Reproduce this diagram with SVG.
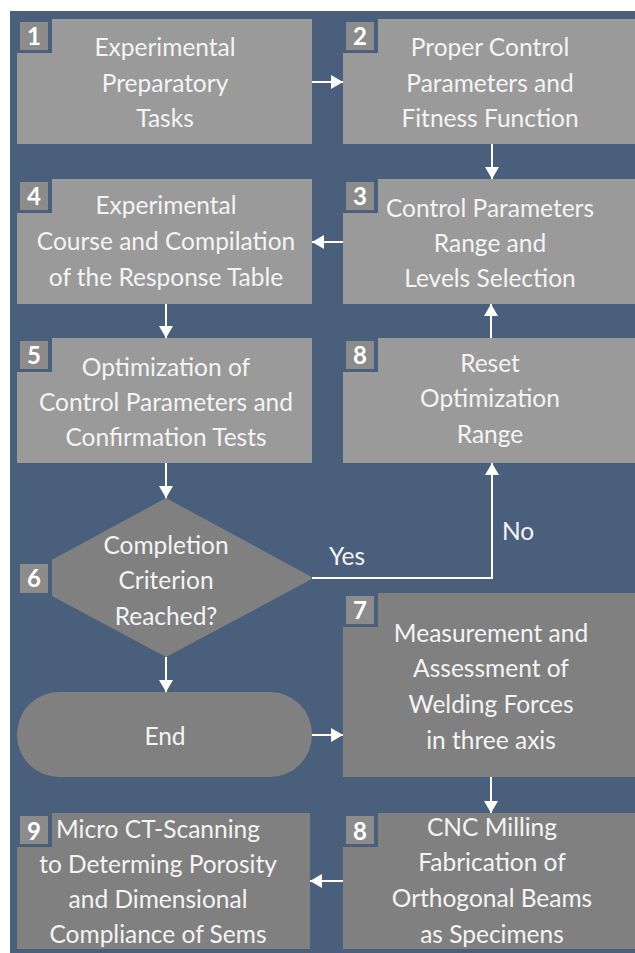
<svg xmlns="http://www.w3.org/2000/svg" width="635" height="953" viewBox="0 0 635 953">
  <style>
    .panel { fill: #4a5f7b; }
    .light { fill: #9a9a9a; }
    .dark { fill: #808080; }
    .badge-frame { fill: #4a5f7b; }
    .badge { fill: #8c8c8c; }
    .num { font-family: Lato, "Liberation Sans", sans-serif; font-weight: bold; font-size: 24px; fill: #ffffff; text-anchor: middle; }
    .lbl { font-family: Lato, "Liberation Sans", sans-serif; font-size: 24.5px; fill: #f4f4f4; text-anchor: middle; }
    .wire { stroke: #ffffff; stroke-width: 2; fill: none; }
  </style>
  <defs>
    <marker id="arrow" viewBox="0 0 12 14" refX="12" refY="7" markerWidth="12" markerHeight="14" markerUnits="userSpaceOnUse" orient="auto">
      <path d="M0,0 L12,7 L0,14 Z" fill="#ffffff"/>
    </marker>
  </defs>

  <rect x="0" y="0" width="635" height="953" fill="#ffffff"/>
  <rect class="panel" x="10" y="11" width="625" height="942"/>

  <g id="node1">
    <rect class="light" x="17" y="19" width="295" height="125"/>
    <rect class="badge-frame" x="17" y="19" width="35" height="34"/>
    <rect class="badge" x="20" y="22" width="28" height="28"/>
    <text class="num" x="34" y="45">1</text>
    <text class="lbl" x="165" y="56">Experimental</text>
    <text class="lbl" x="165" y="91.5">Preparatory</text>
    <text class="lbl" x="165" y="127">Tasks</text>
  </g>

  <g id="node2">
    <rect class="light" x="343" y="19" width="292" height="125"/>
    <rect class="badge-frame" x="343" y="19" width="35" height="34"/>
    <rect class="badge" x="346" y="22" width="28" height="28"/>
    <text class="num" x="360" y="45">2</text>
    <text class="lbl" x="490" y="56">Proper Control</text>
    <text class="lbl" x="490" y="91.5">Parameters and</text>
    <text class="lbl" x="490" y="127">Fitness Function</text>
  </g>

  <g id="node3">
    <rect class="light" x="343" y="179" width="292" height="125"/>
    <rect class="badge-frame" x="343" y="179" width="35" height="34"/>
    <rect class="badge" x="346" y="182" width="28" height="28"/>
    <text class="num" x="360" y="205">3</text>
    <text class="lbl" x="490" y="217">Control Parameters</text>
    <text class="lbl" x="490" y="252">Range and</text>
    <text class="lbl" x="490" y="287">Levels Selection</text>
  </g>

  <g id="node4">
    <rect class="light" x="17" y="179" width="295" height="125"/>
    <rect class="badge-frame" x="17" y="179" width="35" height="34"/>
    <rect class="badge" x="20" y="182" width="28" height="28"/>
    <text class="num" x="34" y="205">4</text>
    <text class="lbl" x="166" y="214">Experimental</text>
    <text class="lbl" x="166" y="250">Course and Compilation</text>
    <text class="lbl" x="166" y="286">of the Response Table</text>
  </g>

  <g id="node5">
    <rect class="light" x="17" y="338" width="295" height="125"/>
    <rect class="badge-frame" x="17" y="338" width="35" height="34"/>
    <rect class="badge" x="20" y="341" width="28" height="28"/>
    <text class="num" x="34" y="364">5</text>
    <text class="lbl" x="166" y="376">Optimization of</text>
    <text class="lbl" x="166" y="411">Control Parameters and</text>
    <text class="lbl" x="166" y="446">Confirmation Tests</text>
  </g>

  <g id="node8-reset">
    <rect class="light" x="343" y="338" width="292" height="125"/>
    <rect class="badge-frame" x="343" y="338" width="35" height="34"/>
    <rect class="badge" x="346" y="341" width="28" height="28"/>
    <text class="num" x="360" y="364">8</text>
    <text class="lbl" x="490" y="372">Reset</text>
    <text class="lbl" x="490" y="407">Optimization</text>
    <text class="lbl" x="490" y="443">Range</text>
  </g>

  <g id="node6">
    <path class="dark" d="M166,498 L310,576 Q313,578 310,580 L166,657 L22,580 Q19,578 22,576 Z"/>
    <rect class="badge-frame" x="17" y="560" width="35" height="38"/>
    <rect class="badge" x="20" y="564" width="28" height="29"/>
    <text class="num" x="34" y="587">6</text>
    <text class="lbl" x="166" y="554">Completion</text>
    <text class="lbl" x="166" y="589">Criterion</text>
    <text class="lbl" x="166" y="625">Reached?</text>
  </g>

  <g id="node7">
    <rect class="dark" x="343" y="593" width="292" height="184"/>
    <rect class="badge-frame" x="343" y="593" width="35" height="34"/>
    <rect class="badge" x="346" y="596" width="28" height="28"/>
    <text class="num" x="360" y="619">7</text>
    <text class="lbl" x="491" y="642">Measurement and</text>
    <text class="lbl" x="491" y="677">Assessment of</text>
    <text class="lbl" x="491" y="713">Welding Forces</text>
    <text class="lbl" x="491" y="749">in three axis</text>
  </g>

  <g id="end">
    <rect class="dark" x="17" y="692" width="295" height="85" rx="42" ry="42"/>
    <text class="lbl" x="165" y="745">End</text>
  </g>

  <g id="node8-cnc">
    <rect class="dark" x="343" y="813" width="292" height="136"/>
    <rect class="badge-frame" x="343" y="813" width="35" height="34"/>
    <rect class="badge" x="346" y="816" width="28" height="28"/>
    <text class="num" x="360" y="840">8</text>
    <text class="lbl" x="492" y="836">CNC Milling</text>
    <text class="lbl" x="492" y="871">Fabrication of</text>
    <text class="lbl" x="492" y="907">Orthogonal Beams</text>
    <text class="lbl" x="492" y="943">as Specimens</text>
  </g>

  <g id="node9">
    <rect class="dark" x="17" y="813" width="293" height="136"/>
    <rect class="badge-frame" x="17" y="813" width="35" height="34"/>
    <rect class="badge" x="20" y="816" width="28" height="28"/>
    <text class="num" x="34" y="840">9</text>
    <text class="lbl" x="158" y="838">Micro CT-Scanning</text>
    <text class="lbl" x="158" y="873">to Determing Porosity</text>
    <text class="lbl" x="158" y="908">and Dimensional</text>
    <text class="lbl" x="158" y="943">Compliance of Sems</text>
  </g>

  <g id="connectors">
    <line class="wire" x1="312" y1="82" x2="343" y2="82" marker-end="url(#arrow)"/>
    <line class="wire" x1="492" y1="144" x2="492" y2="179" marker-end="url(#arrow)"/>
    <line class="wire" x1="343" y1="242" x2="312" y2="242" marker-end="url(#arrow)"/>
    <line class="wire" x1="166" y1="304" x2="166" y2="338" marker-end="url(#arrow)"/>
    <line class="wire" x1="491" y1="338" x2="491" y2="304" marker-end="url(#arrow)"/>
    <line class="wire" x1="166" y1="463" x2="166" y2="498" marker-end="url(#arrow)"/>
    <polyline class="wire" points="312,578 492,578 492,463" marker-end="url(#arrow)"/>
    <text class="lbl" x="347" y="565">Yes</text>
    <text class="lbl" x="518" y="540">No</text>
    <line class="wire" x1="166" y1="657" x2="166" y2="692" marker-end="url(#arrow)"/>
    <line class="wire" x1="312" y1="735" x2="343" y2="735" marker-end="url(#arrow)"/>
    <line class="wire" x1="491" y1="777" x2="491" y2="813" marker-end="url(#arrow)"/>
    <line class="wire" x1="343" y1="881" x2="310" y2="881" marker-end="url(#arrow)"/>
  </g>
</svg>
